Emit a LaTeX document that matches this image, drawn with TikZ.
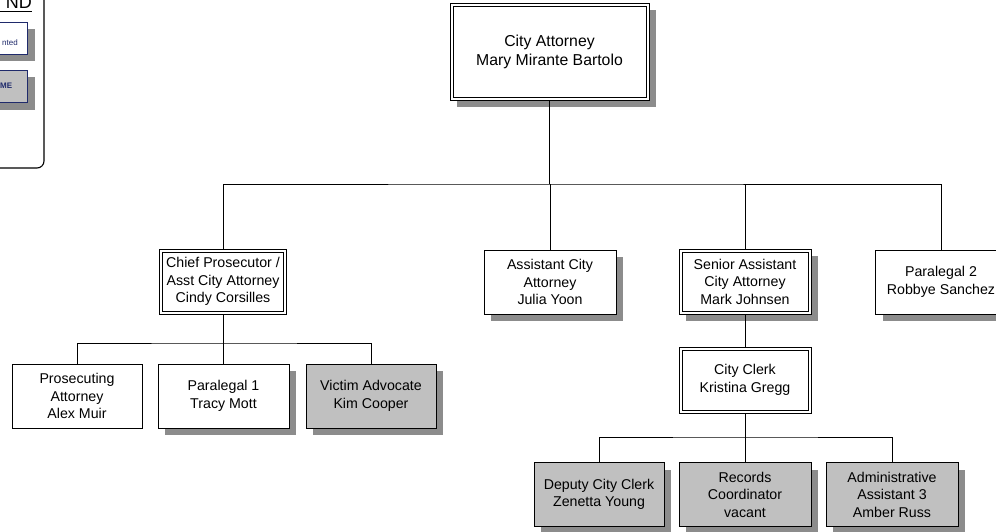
\documentclass[tikz,border=0pt]{standalone}
\usepackage{fontspec}
\setmainfont{Liberation Sans}
\usetikzlibrary{shadows}
\definecolor{shadowgray}{HTML}{8C8C8C}
\definecolor{boxgray}{HTML}{C0C0C0}
\definecolor{navy}{HTML}{1F2A6B}
\newcommand\fbig{\fontsize{15.8}{19}\selectfont}
\newcommand\fmid{\fontsize{14.2}{17.5}\selectfont}
\newcommand\fsmall{\fontsize{8}{9.5}\selectfont}
\newcommand\innerframe[1]{\draw[line width=0.8pt]
  ([xshift=3.5pt,yshift=-3.5pt]#1.north west) rectangle
  ([xshift=-3.5pt,yshift=3.5pt]#1.south east);}
\tikzset{
  box/.style={draw, line width=0.8pt, fill=white, align=center, inner sep=0pt,
    font=\fmid, minimum width=131pt, minimum height=64pt},
  shd/.style={drop shadow={shadow xshift=7pt, shadow yshift=-7pt, fill=shadowgray, opacity=1}},
  grayfill/.style={fill=boxgray},
  conn/.style={line width=0.8pt, draw=black},
  legbox/.style={draw=navy, line width=0.9pt, minimum width=40pt, minimum height=32pt, inner sep=0pt}
}
\begin{document}
\begin{tikzpicture}[x=1pt,y=-1pt]
\useasboundingbox (0,0) rectangle (996,532);
% legend
\draw[line width=1.1pt, rounded corners=7pt] (-20,-20) -- (44,-20) -- (44,168) -- (-20,168);
\node[anchor=base east, font=\fontsize{18}{20}\selectfont, inner sep=0pt] (legt) at (32,9) {ND};
\draw[line width=0.9pt] (-5,11) -- (32,11);
\fill[shadowgray] (-12,29) rectangle (35,61);
\node[legbox, fill=white] (leg1) at (7,38) {};
\node[anchor=base east, font=\fsmall, inner sep=0pt, text=navy] (leg1t) at (18,46) {nted};
\fill[shadowgray] (-12,77) rectangle (35,110);
\node[legbox, fill=boxgray] (leg2) at (7,86.5) {};
\node[anchor=base west, font=\fsmall\bfseries, inner sep=0pt, text=navy] (leg2t) at (0,89) {ME};

% level 1
\node[box, shd, font=\fbig, minimum width=199pt, minimum height=97pt] (ca) at (549.5,52) {City Attorney\\Mary Mirante Bartolo};
\innerframe{ca}
% level 2
\node[box, minimum width=127pt, minimum height=65pt] (cp) at (223,281.5) {Chief Prosecutor /\\Asst City Attorney\\Cindy Corsilles};
\innerframe{cp}
\node[box, shd, minimum width=132pt] (aca) at (550,282) {Assistant City\\Attorney\\Julia Yoon};
\node[box, shd, minimum width=132pt, minimum height=65pt] (sa) at (745,281.5) {Senior Assistant\\City Attorney\\Mark Johnsen};
\innerframe{sa}
\node[box, shd] (p2) at (941,282) {Paralegal 2\\Robbye Sanchez};
% level 3 left
\node[box, minimum width=130pt] (pa) at (77,396) {Prosecuting\\Attorney\\Alex Muir};
\node[box, shd] (p1) at (223.5,396) {Paralegal 1\\Tracy Mott};
\node[box, shd, grayfill, minimum width=130pt] (va) at (371,396) {Victim Advocate\\Kim Cooper};
% city clerk
\node[box, minimum width=132pt, minimum height=66pt] (cc) at (745,380) {City Clerk\\Kristina Gregg};
\innerframe{cc}
% level 4
\node[box, shd, grayfill, minimum width=130pt] (dc) at (599,494.5) {Deputy City Clerk\\Zenetta Young};
\node[box, shd, grayfill, minimum width=132pt] (rc) at (745,494.5) {Records\\Coordinator\\vacant};
\node[box, shd, grayfill, minimum width=132pt] (aa) at (892,494.5) {Administrative\\Assistant 3\\Amber Russ};

% connectors
\coordinate (bus1) at (549.5,184);
\coordinate (bus2) at (224,343);
\coordinate (bus3) at (745,437);
\draw[conn] (ca.south) -- (bus1);
\draw[conn] (cp.north) |- (bus1) -| (p2.north);
\draw[conn] (aca.north) -- (aca.north |- bus1);
\draw[conn] (sa.north) -- (sa.north |- bus1);
\draw[conn] (cp.south) -- (cp.south |- bus2);
\draw[conn] (pa.north) |- (bus2) -| (va.north);
\draw[conn] (p1.north) -- (p1.north |- bus2);
\draw[conn] (sa.south) -- (cc.north);
\draw[conn] (cc.south) -- (bus3);
\draw[conn] (dc.north) |- (bus3) -| (aa.north);
\draw[conn] (rc.north) -- (bus3);
\end{tikzpicture}
\end{document}
